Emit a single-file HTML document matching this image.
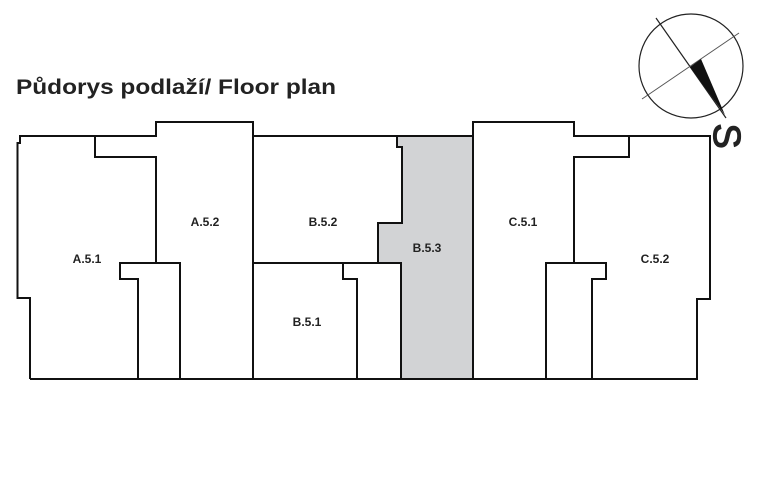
<!DOCTYPE html>
<html><head><meta charset="utf-8"><style>
html,body{margin:0;padding:0;background:#fff;width:770px;height:482px;overflow:hidden}
svg{display:block}
text{font-family:"Liberation Sans",Arial,sans-serif;font-weight:bold;fill:#222}
</style></head><body>
<svg width="770" height="482" viewBox="0 0 770 482">
<text x="16" y="94" font-size="21.5" textLength="320" lengthAdjust="spacingAndGlyphs">Půdorys podlaží/ Floor plan</text>
<!-- compass -->
<circle cx="691" cy="66" r="52" fill="none" stroke="#222" stroke-width="1.2"/>
<line x1="656" y1="18" x2="726" y2="118" stroke="#222" stroke-width="1.2"/>
<line x1="642" y1="99" x2="739" y2="33" stroke="#555" stroke-width="1"/>
<polygon points="690,67 701,59 725,115" fill="#111"/>
<text x="0" y="0" font-size="38" transform="translate(727,136) rotate(90)" text-anchor="middle" dy="13" style="font-weight:normal;stroke:#222;stroke-width:1.2">S</text>
<!-- B.5.3 gray -->
<polygon points="397,136 473,136 473,379 401,379 401,263 378,263 378,223 402,223 402,147 397,147" fill="#d2d3d5" stroke="#111" stroke-width="2"/>
<g fill="none" stroke="#111" stroke-width="2" stroke-linejoin="miter">
<polyline points="30,379 697,379 697,299 710,299 710,136 574,136 574,122 473,122 473,136 253,136 253,122 156,122 156,136 20,136 20,143 17.5,143 17.5,298 30,298 30,379"/>
<polyline points="95,136 95,157 156,157 156,263"/>
<polyline points="138,379 138,279 120,279 120,263 180,263 180,379"/>
<line x1="253" y1="136" x2="253" y2="379"/>
<line x1="253" y1="263" x2="401" y2="263"/>
<polyline points="357,379 357,279 343,279 343,263"/>
<polyline points="629,136 629,157 574,157 574,263"/>
<polyline points="546,379 546,263 606,263 606,279 592,279 592,379"/>
</g>
<g font-size="12" text-anchor="middle">
<text x="87" y="263">A.5.1</text>
<text x="205" y="226">A.5.2</text>
<text x="323" y="226">B.5.2</text>
<text x="427" y="252">B.5.3</text>
<text x="307" y="326">B.5.1</text>
<text x="523" y="226">C.5.1</text>
<text x="655" y="263">C.5.2</text>
</g>
</svg>
</body></html>
